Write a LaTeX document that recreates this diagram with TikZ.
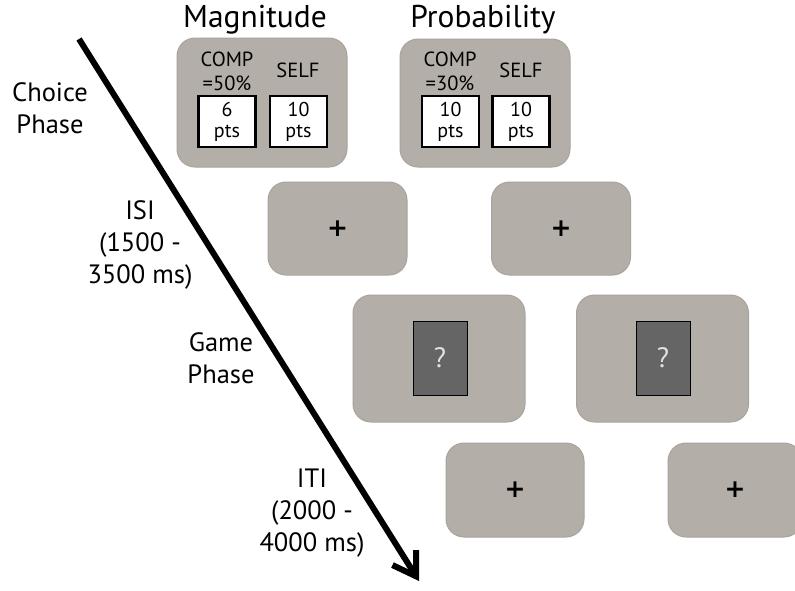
\documentclass[tikz,border=0pt]{standalone}
\usepackage{fontspec}
\setmainfont{PT Sans}
\newfontfamily\plusfont{DejaVu Sans}
\usetikzlibrary{arrows.meta}
\definecolor{boxgray}{HTML}{B4AEA9}
\definecolor{boxedge}{HTML}{A9A39E}
\definecolor{cardgray}{HTML}{656565}
\definecolor{qgray}{HTML}{E2E2E2}
\tikzset{
  screen/.style={fill=boxgray, draw=boxedge, line width=1pt, rounded corners=18pt, inner sep=0pt},
  ptsbox/.style={fill=white, draw=black, line width=2.6pt, minimum width=57pt, minimum height=51pt, inner sep=0pt, align=center, font=\fontsize{20}{21}\selectfont},
  card/.style={fill=cardgray, draw=black, line width=0.8pt, minimum width=54pt, minimum height=74pt, inner sep=0pt, text=qgray, font=\fontsize{28}{28}\selectfont},
  label/.style={align=center, inner sep=0pt, font=\fontsize{26.5}{32}\selectfont},
  title/.style={anchor=base, inner sep=0pt, font=\fontsize{31.5}{32}\selectfont},
  small/.style={align=center, inner sep=0pt, font=\fontsize{20.5}{23.5}\selectfont},
  plus/.style={inner sep=0pt, font=\plusfont\fontsize{25}{25}\selectfont\bfseries},
}
\begin{document}
\begin{tikzpicture}[x=1pt,y=-1pt]
\useasboundingbox (0,0) rectangle (795,590);
\clip (0,0) rectangle (795,590);
\fill[white] (0,0) rectangle (795,590);

% titles
\node[title] (tmag) at (255,27) {Magnitude};
\node[title] (tprob) at (483,27) {Probability};

% choice screens
\node[screen, minimum width=170pt, minimum height=129pt] (cmag) at (262,102.5) {};
\node[screen, minimum width=170pt, minimum height=128pt] (cprob) at (485,103) {};

\node[small] (compm) at (227,71.5) {COMP\\=50\%};
\node[small, anchor=base] (selfm) at (298,77) {SELF};
\node[ptsbox] (pm1) at (227,121.5) {6\\pts};
\node[ptsbox] (pm2) at (298.5,121.5) {10\\pts};

\node[small] (compp) at (450,71.5) {COMP\\=30\%};
\node[small, anchor=base] (selfp) at (521,77) {SELF};
\node[ptsbox] (pp1) at (450.5,121.5) {10\\pts};
\node[ptsbox] (pp2) at (521,121.5) {10\\pts};

% ISI screens
\node[screen, minimum width=139pt, minimum height=93pt] (isil) at (337.5,228.5) {};
\node[screen, minimum width=139pt, minimum height=93pt] (isir) at (561,228.5) {};
\node[plus] (isilp) at (isil) {+};
\node[plus] (isirp) at (isir) {+};

% game screens
\node[screen, minimum width=172pt, minimum height=127pt] (gamel) at (439,358.5) {};
\node[screen, minimum width=172pt, minimum height=127pt] (gamer) at (662.5,358.5) {};
\node[card] (cardl) at (440,358) {?};
\node[card] (cardr) at (663,358) {?};

% ITI screens
\node[screen, minimum width=138pt, minimum height=94pt] (itil) at (515,490) {};
\node[screen, minimum width=134pt, minimum height=94pt] (itir) at (735,490) {};
\node[plus] (itilp) at (itil) {+};
\node[plus] (itirp) at (itir) {+};

% time arrow
\coordinate (astart) at (79,39);
\coordinate (aend) at (419,581);
\draw[line width=6pt, -{Straight Barb[length=22pt, width=28pt, line width=6pt]}] (astart) -- (aend);

% phase labels
\node[label] (lchoice) at (50,108) {Choice\\Phase};
\node[label] (lisi) at (140,245) {ISI\\(1500 -\\3500 ms)};
\node[label] (lgame) at (221,358) {Game\\Phase};
\node[label] (liti) at (312,513) {ITI\\(2000 -\\4000 ms)};
\end{tikzpicture}
\end{document}
